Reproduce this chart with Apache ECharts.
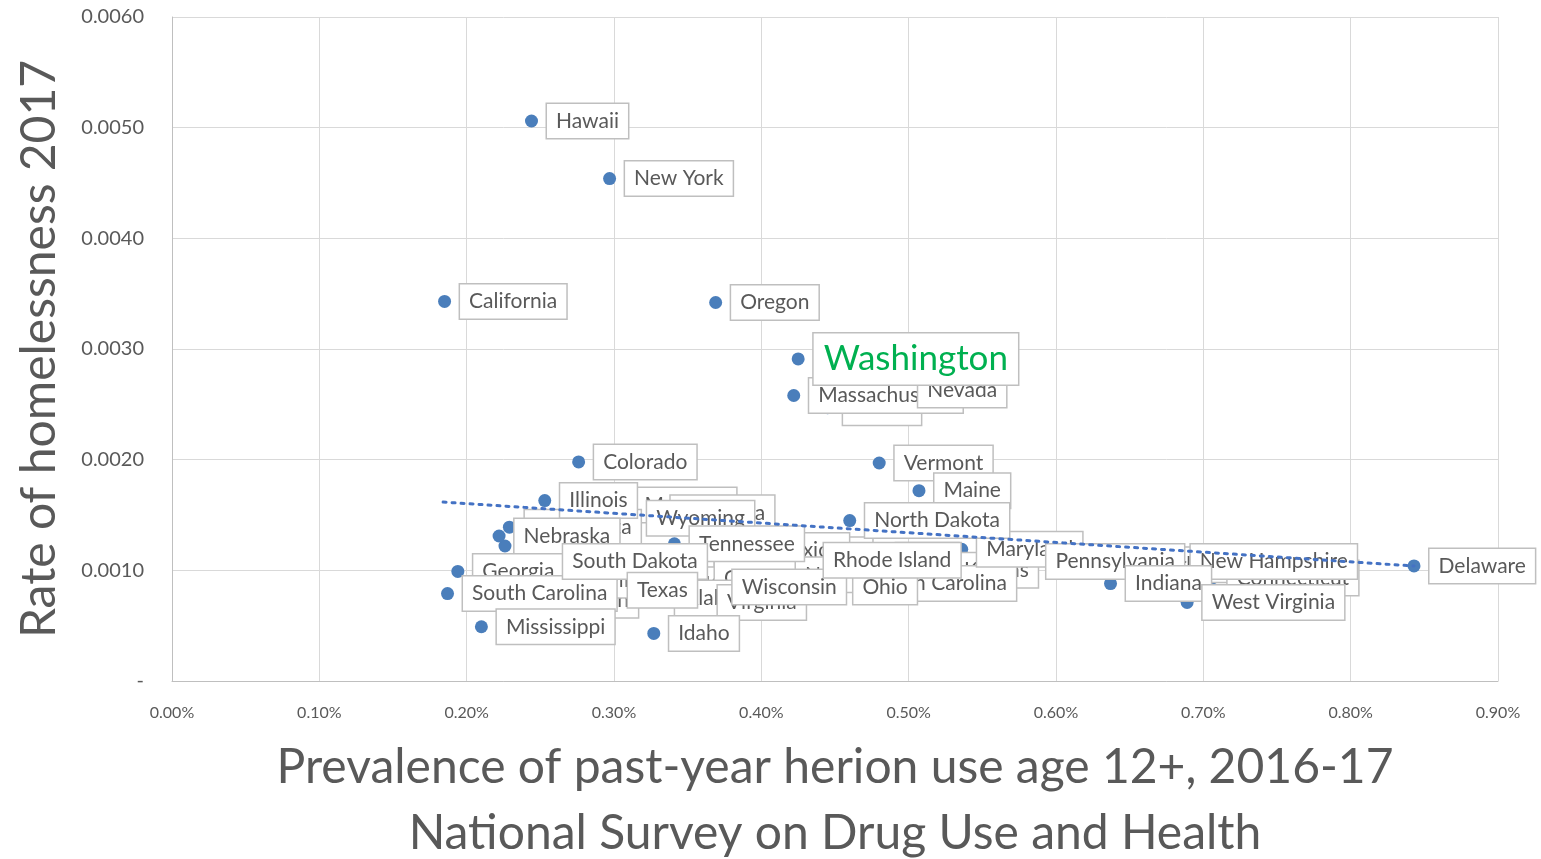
<!DOCTYPE html>
<html>
<head>
<meta charset="utf-8">
<script src="https://cdn.jsdelivr.net/npm/echarts@6/dist/echarts.min.js"></script>
<style>
  html, body { margin: 0; padding: 0; background: #fff; overflow: hidden; }
  #chart { width: 100vw; height: 100vh; }
</style>
</head>
<body>
<div id="chart"></div>
<script>
// State names, in drawing order (later labels sit on top of earlier ones)
const states = [
  'Alaska', 'Montana', 'Louisiana', 'Minnesota', 'Florida', 'Missouri', 'New Mexico',
  'Iowa', 'Kansas', 'Arizona', 'Utah', 'Michigan', 'Kentucky', 'Oklahoma', 'Alabama',
  'New Jersey', 'Arkansas', 'Connecticut',
  'Hawaii', 'New York', 'California', 'Oregon', 'Massachusetts', 'Nevada',
  'Colorado', 'Vermont', 'Maine', 'Illinois', 'Nebraska', 'Wyoming', 'Tennessee',
  'Georgia', 'South Carolina', 'South Dakota', 'Texas', 'Virginia', 'Wisconsin',
  'North Carolina', 'Ohio', 'Rhode Island', 'Maryland', 'Pennsylvania',
  'New Hampshire', 'Indiana', 'West Virginia', 'North Dakota',
  'Mississippi', 'Idaho', 'Delaware', 'Washington'
];

// Prevalence of past-year heroin use age 12+, 2016-17 (percent)
const heroinPct = [
  0.445, 0.304, 0.328, 0.229, 0.226, 0.399, 0.358,
  0.481, 0.521, 0.236, 0.263, 0.277, 0.345, 0.358, 0.331,
  0.413, 0.657, 0.706,
  0.244, 0.297, 0.185, 0.369, 0.422, 0.496,
  0.276, 0.480, 0.507, 0.253, 0.222, 0.312, 0.341,
  0.194, 0.187, 0.255, 0.299, 0.360, 0.370,
  0.458, 0.452, 0.432, 0.536, 0.583,
  0.681, 0.637, 0.689, 0.460,
  0.210, 0.327, 0.843, 0.425
];

// Rate of homelessness 2017
const homelessRate = [
  0.00247, 0.00159, 0.00152, 0.00139, 0.00122, 0.00114, 0.00118,
  0.00109, 0.00100, 0.00096, 0.00073, 0.00091, 0.00087, 0.00093, 0.00075,
  0.00096, 0.00105, 0.00093,
  0.00506, 0.00454, 0.00343, 0.00342, 0.00258, 0.00263,
  0.00198, 0.00197, 0.00172, 0.00163, 0.00131, 0.00147, 0.00124,
  0.00099, 0.00079, 0.00108, 0.00082, 0.00071, 0.00085,
  0.00088, 0.00085, 0.00109, 0.00119, 0.00108,
  0.00108, 0.00088, 0.00071, 0.00145,
  0.00049, 0.00043, 0.00104, 0.00291
];

// Linear trendline end points (x in percent, y as rate)
const trendX = [0.184, 0.843];
const trendY = [0.001617, 0.001039];

// Axis tick settings
const xTicks = { min: 0, max: 0.9, interval: 0.1 };
const yTicks = { min: 0, max: 0.006, interval: 0.001 };

const points = states.map((s, i) => [heroinPct[i], homelessRate[i], s]);

const labelFont = 'Lato, "Liberation Sans", sans-serif';
const grey = '#595959';

const labelData = points.map(p => {
  const item = { value: p, name: p[2] };
  if (p[2] === 'Washington') {
    item.label = { fontSize: 35, color: '#00B050', padding: [8, 10, 8, 10] };
  }
  return item;
});

const chart = echarts.init(document.getElementById('chart'));
chart.setOption({
  animation: false,
  backgroundColor: '#fff',
  grid: { left: 172, right: 43, top: 17, bottom: 178, containLabel: false, outerBoundsMode: 'none' },
  xAxis: {
    type: 'value',
    min: xTicks.min, max: xTicks.max, interval: xTicks.interval,
    axisLine: { show: true, lineStyle: { color: '#BFBFBF', width: 1 } },
    axisTick: { show: false },
    splitLine: { show: true, lineStyle: { color: '#D9D9D9', width: 1 } },
    axisLabel: {
      color: grey, fontSize: 16, fontFamily: labelFont, margin: 24,
      formatter: v => v.toFixed(2) + '%'
    },
    name: 'Prevalence of past-year herion use age 12+, 2016-17\nNational Survey on Drug Use and Health',
    nameLocation: 'middle',
    nameGap: 54,
    nameTextStyle: { color: grey, fontSize: 48, lineHeight: 66, fontFamily: labelFont }
  },
  yAxis: {
    type: 'value',
    min: yTicks.min, max: yTicks.max, interval: yTicks.interval,
    axisLine: { show: true, lineStyle: { color: '#BFBFBF', width: 1 } },
    axisTick: { show: false },
    splitLine: { show: true, lineStyle: { color: '#D9D9D9', width: 1 } },
    axisLabel: {
      color: grey, fontSize: 20, fontFamily: labelFont, margin: 28,
      formatter: v => (v === 0 ? '-' : v.toFixed(4))
    },
    name: 'Rate of homelessness 2017',
    nameLocation: 'middle',
    nameGap: 108,
    nameTextStyle: { color: grey, fontSize: 48, fontFamily: labelFont }
  },
  series: [
    {
      name: 'states',
      type: 'scatter',
      data: labelData,
      symbolSize: 13,
      itemStyle: { color: '#4A7EBB', opacity: 1 },
      z: 4,
      label: {
        show: true,
        position: 'right',
        distance: 9,
        formatter: '{b}',
        fontSize: 21,
        fontFamily: labelFont,
        color: grey,
        backgroundColor: '#ffffff',
        borderColor: '#BFBFBF',
        borderWidth: 1.5,
        padding: [7, 9, 6, 9]
      }
    },
    {
      name: 'trend',
      type: 'line',
      data: trendX.map((x, i) => [x, trendY[i]]),
      symbol: 'none',
      lineStyle: { color: '#4472C4', width: 3, type: [3, 6], cap: 'round' },
      z: 8,
      silent: true
    }
  ]
});
</script>
</body>
</html>
